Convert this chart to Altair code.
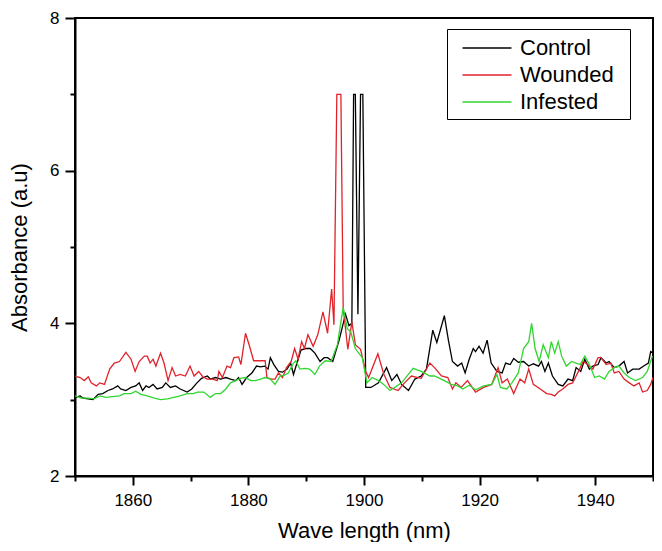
import altair as alt
import pandas as pd

# ---- data ----
wl_control = [1850.0, 1850.9, 1851.4, 1852.3, 1853.1, 1854.0, 1854.8, 1855.7, 1856.5, 1857.4,
              1857.9, 1858.8, 1859.7, 1860.5, 1861.1, 1861.7, 1862.3, 1862.8, 1863.5, 1864.2,
              1865.1, 1865.7, 1866.5, 1867.4, 1868.2, 1869.4, 1870.2, 1871.1, 1871.9, 1872.9,
              1873.4, 1874.3, 1875.2, 1876.1, 1876.9, 1877.8, 1878.3, 1878.9, 1879.7, 1880.6,
              1881.4, 1882.1, 1882.8, 1883.4, 1883.8, 1884.4, 1885.2, 1885.9, 1886.7, 1887.3,
              1887.8, 1888.6, 1889.1, 1889.9, 1890.7, 1891.5, 1892.4, 1893.1, 1893.7, 1894.6,
              1895.7, 1896.8, 1897.4, 1897.9, 1898.2, 1898.5, 1898.95, 1899.4, 1899.8, 1900.3,
              1901.2, 1902.5, 1903.9, 1904.8, 1905.7, 1906.5, 1907.7, 1908.8, 1909.9, 1910.8,
              1911.9, 1912.6, 1913.9, 1914.6, 1915.3, 1916.2, 1916.9, 1917.5, 1918.2, 1918.9,
              1919.3, 1919.9, 1920.6, 1921.3, 1922.0, 1923.0, 1923.9, 1924.5, 1925.3, 1925.9,
              1926.7, 1927.6, 1928.5, 1929.3, 1930.2, 1930.7, 1931.3, 1931.9, 1932.6, 1933.6,
              1934.4, 1935.3, 1936.1, 1936.7, 1937.5, 1938.2, 1939.0, 1939.6, 1940.5, 1941.0,
              1941.9, 1942.4, 1943.3, 1944.1, 1945.0, 1945.6, 1946.5, 1947.6, 1948.4, 1949.2,
              1949.6, 1950.0]
abs_control = [3.03, 3.05, 3.02, 3.01, 3.00, 3.07, 3.08, 3.12, 3.14, 3.18,
               3.14, 3.12, 3.16, 3.18, 3.22, 3.12, 3.18, 3.16, 3.20, 3.14,
               3.16, 3.22, 3.16, 3.18, 3.14, 3.10, 3.14, 3.22, 3.28, 3.31,
               3.27, 3.29, 3.27, 3.29, 3.27, 3.25, 3.29, 3.20, 3.29, 3.35,
               3.44, 3.43, 3.44, 3.40, 3.55, 3.46, 3.37, 3.36, 3.40, 3.48,
               3.33, 3.53, 3.65, 3.67, 3.67, 3.61, 3.50, 3.55, 3.55, 3.50,
               3.78, 4.12, 3.97, 4.00, 7.00, 7.00, 4.12, 7.00, 7.00, 3.16,
               3.16, 3.22, 3.42, 3.25, 3.33, 3.20, 3.12, 3.27, 3.31, 3.40,
               3.91, 3.75, 4.10, 3.78, 3.50, 3.44, 3.48, 3.35, 3.53, 3.67,
               3.63, 3.70, 3.61, 3.78, 3.48, 3.37, 3.35, 3.48, 3.46, 3.54,
               3.49, 3.50, 3.44, 3.47, 3.44, 3.50, 3.37, 3.48, 3.31, 3.20,
               3.18, 3.27, 3.25, 3.42, 3.37, 3.53, 3.40, 3.44, 3.46, 3.55,
               3.48, 3.50, 3.42, 3.44, 3.50, 3.35, 3.40, 3.40, 3.44, 3.48,
               3.63, 3.61]

wl_wounded = [1850.0, 1850.9, 1851.6, 1852.3, 1852.8, 1853.7, 1854.3, 1855.1, 1856.0, 1856.8,
              1857.7, 1858.8, 1859.7, 1860.4, 1861.1, 1862.0, 1862.5, 1863.0, 1863.5, 1864.0,
              1864.8, 1865.4, 1866.1, 1866.8, 1867.4, 1868.2, 1869.1, 1869.9, 1870.6, 1871.4,
              1872.1, 1872.9, 1873.8, 1874.6, 1874.9, 1875.5, 1876.3, 1876.9, 1877.5, 1878.3,
              1878.7, 1879.5, 1880.2, 1880.9, 1881.8, 1882.9, 1883.2, 1884.0, 1884.6, 1885.2,
              1885.9, 1886.6, 1887.4, 1888.0, 1888.6, 1889.2, 1889.7, 1890.3, 1891.2, 1892.0,
              1892.9, 1893.7, 1894.4, 1894.8, 1895.3, 1896.0, 1896.4, 1897.2, 1897.9, 1898.5,
              1899.4, 1900.3, 1900.8, 1902.4, 1903.4, 1904.5, 1905.9, 1907.0, 1908.2, 1909.9,
              1911.4, 1912.2, 1913.4, 1914.5, 1915.3, 1915.9, 1916.8, 1917.9, 1919.3, 1920.7,
              1922.1, 1923.2, 1923.9, 1924.8, 1925.9, 1927.0, 1927.8, 1928.5, 1929.3, 1930.5,
              1931.6, 1932.4, 1933.0, 1933.6, 1934.4, 1935.3, 1936.1, 1936.7, 1937.3, 1937.9,
              1938.7, 1939.6, 1940.5, 1941.0, 1941.9, 1942.7, 1943.3, 1944.1, 1945.0, 1945.9,
              1946.7, 1947.6, 1948.2, 1949.0, 1949.6, 1950.0]
abs_wounded = [3.31, 3.29, 3.25, 3.30, 3.22, 3.18, 3.22, 3.20, 3.40, 3.48,
               3.50, 3.62, 3.53, 3.37, 3.50, 3.57, 3.57, 3.48, 3.53, 3.44,
               3.61, 3.48, 3.25, 3.42, 3.31, 3.33, 3.31, 3.44, 3.31, 3.37,
               3.30, 3.27, 3.27, 3.25, 3.37, 3.29, 3.44, 3.42, 3.55, 3.56,
               3.46, 3.87, 3.70, 3.51, 3.51, 3.51, 3.29, 3.27, 3.27, 3.35,
               3.29, 3.42, 3.50, 3.67, 3.53, 3.76, 3.67, 3.85, 3.70, 3.85,
               4.15, 3.87, 4.45, 3.98, 7.00, 7.00, 4.20, 3.66, 4.02, 3.72,
               3.66, 3.37, 3.29, 3.60, 3.34, 3.16, 3.12, 3.22, 3.31, 3.28,
               3.48, 3.42, 3.31, 3.29, 3.14, 3.22, 3.16, 3.25, 3.10, 3.16,
               3.20, 3.42, 3.22, 3.27, 3.08, 3.27, 3.22, 3.40, 3.20, 3.14,
               3.08, 3.07, 3.05, 3.10, 3.14, 3.20, 3.22, 3.31, 3.40, 3.50,
               3.46, 3.40, 3.55, 3.55, 3.46, 3.48, 3.35, 3.37, 3.27, 3.22,
               3.18, 3.22, 3.10, 3.12, 3.20, 3.29]

wl_infested = [1850.0, 1851.1, 1852.3, 1853.3, 1854.3, 1855.4, 1856.5, 1857.7, 1858.5, 1859.7,
               1860.5, 1861.4, 1862.5, 1863.7, 1864.8, 1866.0, 1867.1, 1868.2, 1869.4, 1870.5,
               1871.2, 1872.3, 1873.4, 1874.3, 1875.2, 1876.1, 1876.9, 1877.8, 1878.6, 1879.5,
               1880.4, 1881.2, 1882.1, 1882.9, 1883.8, 1884.6, 1885.5, 1886.2, 1886.9, 1887.8,
               1888.2, 1888.9, 1889.8, 1890.6, 1891.5, 1892.3, 1893.3, 1894.3, 1895.4, 1896.4,
               1897.1, 1897.7, 1898.5, 1899.7, 1900.5, 1901.4, 1902.5, 1903.4, 1904.5, 1906.5,
               1908.5, 1909.9, 1911.4, 1912.2, 1913.9, 1915.1, 1916.2, 1917.1, 1918.2, 1919.3,
               1920.7, 1922.1, 1923.0, 1923.6, 1924.7, 1925.6, 1926.7, 1927.6, 1928.5, 1929.0,
               1929.6, 1930.3, 1931.0, 1931.9, 1932.4, 1933.0, 1933.6, 1934.2, 1935.0, 1935.9,
               1936.7, 1937.4, 1938.2, 1939.0, 1939.9, 1940.7, 1941.6, 1942.4, 1943.3, 1944.1,
               1945.0, 1945.9, 1947.0, 1948.2, 1949.0, 1949.9]
abs_infested = [3.05, 3.02, 3.02, 3.01, 3.05, 3.03, 3.04, 3.05, 3.08, 3.08,
                3.11, 3.07, 3.05, 3.02, 3.00, 3.01, 3.03, 3.05, 3.08, 3.08,
                3.10, 3.10, 3.03, 3.08, 3.08, 3.14, 3.22, 3.25, 3.28, 3.29,
                3.25, 3.25, 3.27, 3.29, 3.27, 3.20, 3.31, 3.32, 3.35, 3.48,
                3.51, 3.40, 3.41, 3.40, 3.33, 3.44, 3.51, 3.50, 3.72, 4.21,
                3.93, 3.89, 3.67, 3.55, 3.22, 3.29, 3.25, 3.20, 3.12, 3.22,
                3.41, 3.37, 3.31, 3.31, 3.25, 3.20, 3.18, 3.14, 3.19, 3.13,
                3.18, 3.20, 3.33, 3.16, 3.14, 3.22, 3.35, 3.67, 3.76, 4.00,
                3.67, 3.50, 3.72, 3.55, 3.76, 3.61, 3.76, 3.57, 3.44, 3.50,
                3.48, 3.46, 3.57, 3.46, 3.29, 3.31, 3.27, 3.37, 3.42, 3.44,
                3.35, 3.29, 3.25, 3.29, 3.37, 3.57]

series_names = ["Control", "Wounded", "Infested"]
series_colors = ["#000000", "#e0232b", "#2fd62f"]
x_ticks = list(range(1850, 1951, 10))
y_ticks = [2, 3, 4, 5, 6, 7, 8]

rows = []
for name, xs, ys in [("Control", wl_control, abs_control),
                     ("Wounded", wl_wounded, abs_wounded),
                     ("Infested", wl_infested, abs_infested)]:
    for xv, yv in zip(xs, ys):
        rows.append({"series": name, "wl": xv, "abs": yv})
df = pd.DataFrame(rows)

FONT = "Liberation Sans"

chart = alt.Chart(df).mark_line(strokeWidth=1.3, clip=True).encode(
    x=alt.X("wl:Q",
            scale=alt.Scale(domain=[1850, 1950], nice=False, zero=False),
            axis=alt.Axis(values=x_ticks, format="d",
                          labelExpr="datum.value % 20 == 0 ? datum.label : ''",
                          tickSize={"condition": {"test": "datum.value % 20 == 0", "value": 9}, "value": 5},
                          labelPadding=7,
                          title="Wave length (nm)", titleY=44)),
    y=alt.Y("abs:Q",
            scale=alt.Scale(domain=[2, 8], nice=False, zero=False),
            axis=alt.Axis(values=y_ticks,
                          labelExpr="datum.value % 2 == 0 ? datum.label : ''",
                          tickSize={"condition": {"test": "datum.value % 2 == 0", "value": 10}, "value": 5},
                          labelPadding=6,
                          title="Absorbance (a.u)", titleX=-44)),
    color=alt.Color("series:N",
                    scale=alt.Scale(domain=series_names, range=series_colors),
                    legend=alt.Legend(title="\u00a0", titleOrient="right", titleFontSize=1,
                                      titlePadding=10,
                                      orient="none", legendX=372, legendY=11,
                                      symbolType="M-2,0L2,0", symbolSize=600,
                                      symbolStrokeWidth=1.3, symbolOffset=21,
                                      labelFontSize=22, labelFont=FONT, labelOffset=20,
                                      rowPadding=3, padding=6,
                                      strokeColor="black", fillColor="white")),
    order=alt.Order("series:N"),
).properties(
    width=578, height=458,
    autosize=alt.AutoSizeParams(type="none"),
    padding={"left": 67, "top": 10, "right": 1, "bottom": 66},
).configure_view(
    stroke="black", strokeWidth=2
).configure_axis(
    grid=False, domainColor="black", domainWidth=2, tickColor="black", tickWidth=2,
    labelFont=FONT, labelFontSize=17, labelColor="black",
    titleFont=FONT, titleFontSize=22, titleFontWeight="normal", titleColor="black",
)

chart.save("out.html", embed_options={"renderer": "svg", "actions": False})
